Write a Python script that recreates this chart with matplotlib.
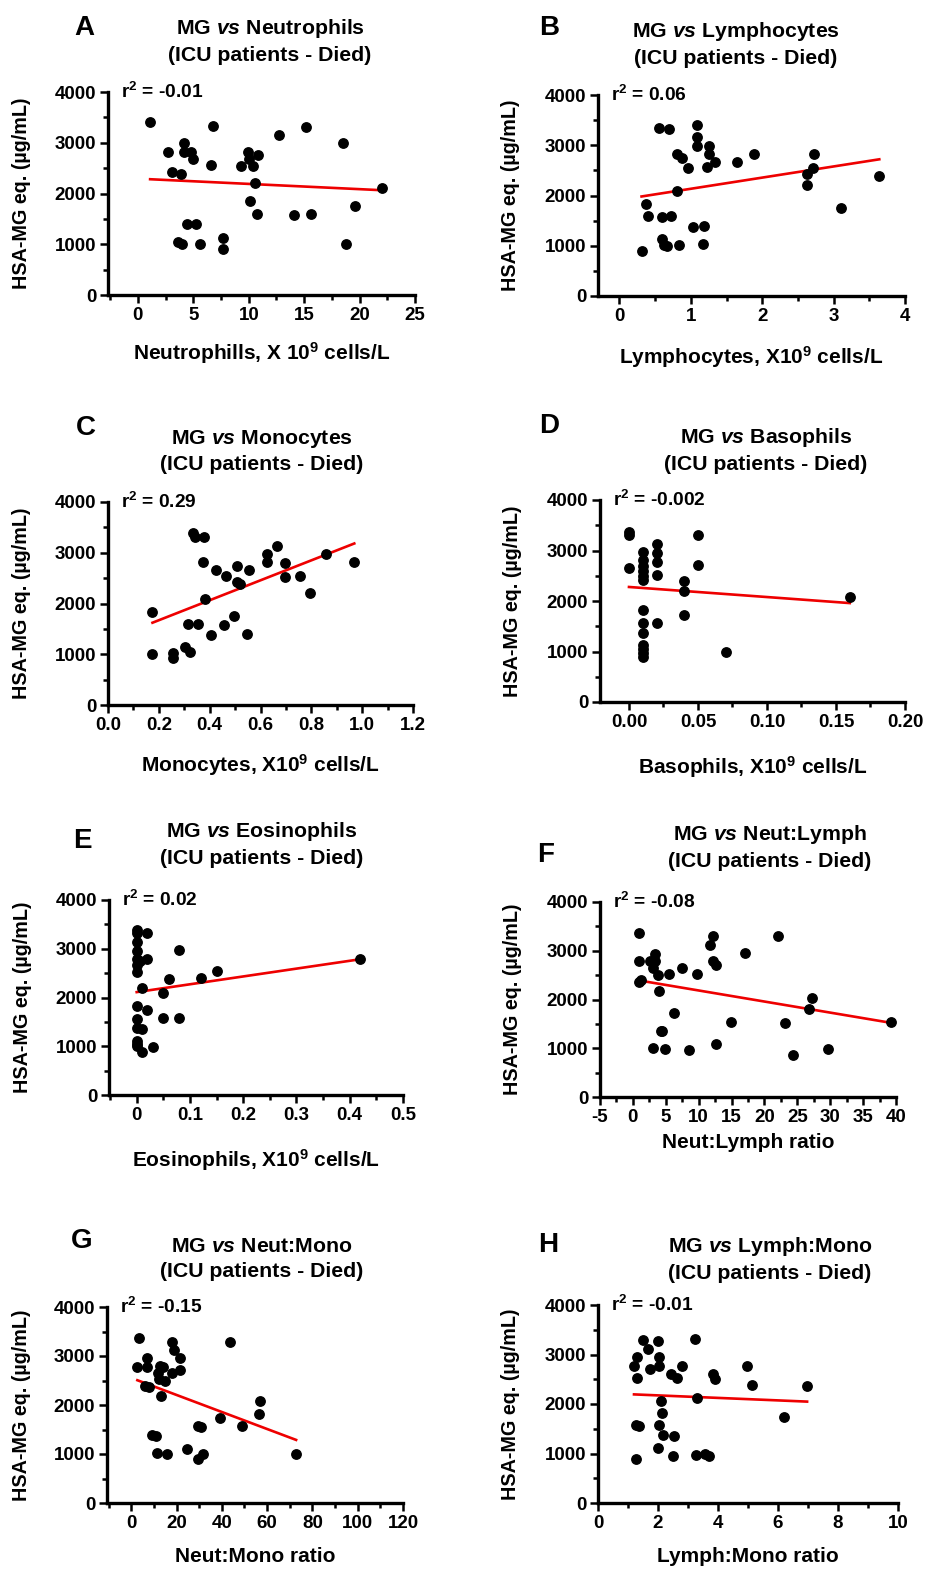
import numpy as np
import matplotlib
matplotlib.use("Agg")
import matplotlib.pyplot as plt
from matplotlib.ticker import MultipleLocator, FixedLocator, FixedFormatter

plt.rcParams["font.family"] = ["Liberation Sans", "DejaVu Sans"]
plt.rcParams["font.weight"] = "bold"
plt.rcParams["mathtext.fontset"] = "custom"
plt.rcParams["mathtext.rm"] = "Liberation Sans:bold"
plt.rcParams["mathtext.it"] = "Liberation Sans:italic:bold"
plt.rcParams["mathtext.bf"] = "Liberation Sans:bold"
plt.rcParams["mathtext.default"] = "rm"

# ---- data ----
a_x = [1.1, 2.7, 3.1, 3.9, 4.2, 4.2, 4.8, 5.0, 3.6, 4.0, 4.4, 5.2, 5.6, 6.6, 6.8, 7.7, 7.7,
       9.3, 9.9, 10.0, 10.4, 10.8, 10.6, 10.1, 10.7, 12.7, 14.1, 15.2, 15.6, 18.5, 18.8, 19.6, 22.0]
a_y = [3400, 2820, 2420, 2390, 2990, 2820, 2820, 2670, 1040, 1010, 1390, 1390, 1010, 2570, 3330, 1130, 900,
       2550, 2820, 2680, 2540, 2750, 2200, 1850, 1590, 3150, 1570, 3320, 1590, 2990, 1010, 1750, 2100]

b_x = [0.31, 0.37, 0.40, 0.56, 0.69, 0.60, 0.72, 0.60, 0.63, 0.67, 0.84, 0.80, 0.87, 0.81, 0.96, 1.03, 1.18,
       1.17, 1.08, 1.08, 1.09, 1.22, 1.26, 1.26, 1.34, 1.65, 1.89, 2.63, 2.63, 2.71, 2.73, 3.10, 3.64]
b_y = [900, 1840, 1590, 3340, 3320, 1580, 1590, 1130, 1010, 990, 1010, 2820, 2750, 2090, 2550, 1380, 1390,
       1040, 3400, 3160, 2980, 2570, 2990, 2820, 2670, 2670, 2820, 2420, 2210, 2540, 2820, 1750, 2390]

c_x = [0.175, 0.175, 0.255, 0.255, 0.304, 0.324, 0.315, 0.354, 0.333, 0.344, 0.377, 0.374, 0.383, 0.406,
       0.423, 0.456, 0.465, 0.496, 0.506, 0.506, 0.518, 0.546, 0.555, 0.625, 0.625, 0.665, 0.698, 0.698,
       0.756, 0.796, 0.859, 0.969]
c_y = [1840, 1010, 1030, 920, 1140, 1050, 1600, 1600, 3380, 3310, 3310, 2810, 2090, 1380,
       2660, 1580, 2550, 1760, 2740, 2420, 2390, 1400, 2660, 2980, 2810, 3140, 2800, 2530,
       2550, 2200, 2970, 2810]

d_x = [0.0, 0.0, 0.0,
       0.01, 0.01, 0.01, 0.01, 0.01, 0.01, 0.01, 0.01, 0.01, 0.01, 0.01, 0.01, 0.01,
       0.02, 0.02, 0.02, 0.02, 0.02, 0.04, 0.04, 0.04, 0.05, 0.05, 0.07, 0.16]
d_y = [3360, 3300, 2650,
       2970, 2820, 2700, 2590, 2500, 2410, 1830, 1560, 1360, 1130, 1050, 970, 890,
       3130, 2950, 2770, 2520, 1560, 2390, 2190, 1730, 3300, 2720, 990, 2080]

e_x = [0.0, 0.0, 0.0, 0.0, 0.0, 0.0, 0.0, 0.0, 0.0, 0.0, 0.0, 0.0, 0.0, 0.006,
       0.01, 0.01, 0.01, 0.02, 0.02, 0.02, 0.03, 0.05, 0.05, 0.06, 0.08, 0.08, 0.12, 0.15, 0.42]
e_y = [3390, 3320, 3130, 2960, 2790, 2670, 2530, 1830, 1550, 1380, 1110, 1040, 1000, 2740,
       2190, 1360, 880, 3320, 2790, 1740, 990, 2090, 1570, 2380, 2970, 1570, 2410, 2540, 2790]

f_x = [1.0, 1.0, 1.2, 1.0, 2.6, 3.0, 3.3, 3.4, 3.8, 4.0, 5.5, 4.2, 4.4, 3.1, 4.9, 6.3, 7.5, 8.5, 9.8,
       11.7, 12.2, 12.2, 12.6, 12.7, 14.9, 17.0, 22.1, 23.2, 24.3, 26.7, 27.3, 29.6, 39.3]
f_y = [3370, 2780, 2390, 2360, 2780, 2650, 2940, 2780, 2500, 2170, 2530, 1350, 1350, 1010, 980, 1720, 2650,
       970, 2520, 3110, 3300, 2780, 2710, 1090, 1540, 2950, 3300, 1520, 860, 1810, 2040, 980, 1540]

g_x = [3.4, 2.7, 6.8, 6.8, 6.1, 7.8, 9.3, 11.1, 11.2, 15.7, 11.8, 12.7, 14.2, 12.3, 14.8, 13.3, 17.9,
       18.9, 17.9, 21.6, 21.4, 24.8, 29.5, 31.0, 29.5, 31.8, 39.3, 43.7, 48.9, 56.6, 56.9, 72.8]
g_y = [3360, 2770, 2960, 2770, 2390, 2370, 1380, 1360, 1020, 990, 2660, 2790, 2770, 2530, 2500, 2180, 3290,
       3120, 2650, 2960, 2720, 1110, 1570, 1550, 890, 990, 1740, 3280, 1570, 1820, 2080, 990]

h_x = [1.20, 1.29, 1.29, 1.26, 1.37, 1.26, 1.51, 1.65, 1.74, 2.00, 2.02, 2.04, 2.11, 2.13, 2.04, 2.16,
       2.00, 2.43, 2.63, 2.49, 2.52, 2.80, 3.22, 3.31, 3.28, 3.57, 3.70, 3.83, 3.89, 4.97, 5.13, 6.20, 6.97]
h_y = [2770, 2940, 2520, 1570, 1550, 880, 3290, 3110, 2710, 3280, 2940, 2770, 2060, 1820, 1570, 1370,
       1110, 2600, 2530, 940, 1360, 2770, 3310, 2130, 960, 990, 940, 2600, 2500, 2770, 2380, 1730, 2360]

letters = ["A", "B", "C", "D", "E", "F", "G", "H"]
titles = ["Neutrophils", "Lymphocytes", "Monocytes", "Basophils",
          "Eosinophils", "Neut:Lymph", "Neut:Mono", "Lymph:Mono"]
xlabels = ["Neutrophills, X 10$^9$ cells/L", "Lymphocytes, X10$^9$ cells/L",
           "Monocytes, X10$^9$ cells/L", "Basophils, X10$^9$ cells/L",
           "Eosinophils, X10$^9$ cells/L", "Neut:Lymph ratio",
           "Neut:Mono ratio", "Lymph:Mono ratio"]
r2_labels = ["-0.01", "0.06", "0.29", "-0.002", "0.02", "-0.08", "-0.15", "-0.01"]
xtick_labels = [
    ["0", "5", "10", "15", "20", "25"],
    ["0", "1", "2", "3", "4"],
    ["0.0", "0.2", "0.4", "0.6", "0.8", "1.0", "1.2"],
    ["0.00", "0.05", "0.10", "0.15", "0.20"],
    ["0", "0.1", "0.2", "0.3", "0.4", "0.5"],
    ["-5", "0", "5", "10", "15", "20", "25", "30", "35", "40"],
    ["0", "20", "40", "60", "80", "100", "120"],
    ["0", "2", "4", "6", "8", "10"],
]
xdata = [a_x, b_x, c_x, d_x, e_x, f_x, g_x, h_x]
ydata = [a_y, b_y, c_y, d_y, e_y, f_y, g_y, h_y]

# ---- layout (pixels on a 926x1570 canvas) ----
W, H = 926, 1570
# left, top, right, bottom of each plot box
boxes = [(108, 92, 415, 295), (598, 95, 905, 296),
         (108, 502, 413, 705), (600, 500, 905, 702),
         (109, 900, 403, 1095), (600, 902, 896, 1097),
         (107, 1307, 403, 1503), (598, 1305, 898, 1503)]
xlims = [(-2.7, 25), (-0.3, 4), (0, 1.2), (-0.021, 0.2),
         (-0.052, 0.5), (-5, 40), (-10.7, 120), (0, 10)]
minor_steps = [2.5, 0.5, 0.1, 0.025, 0.05, 2.5, 10, 1]
title_pos = [(270, 41), (736, 44), (262, 451), (766, 450),
             (262, 844), (770, 847), (262, 1259), (770, 1259)]
letter_pos = [(84, 15), (549, 15), (86, 415), (549, 413),
              (82, 828), (546, 842), (82, 1228), (548, 1232)]
xlabel_y = [353, 357, 765, 767, 1160, 1142, 1557, 1557]
ylabel_x = [22, 510, 22, 512, 22, 513, 22, 510]

fig = plt.figure(figsize=(W / 100, H / 100), dpi=100)

for i in range(8):
    l, t, r, b = boxes[i]
    ax = fig.add_axes([l / W, 1 - b / H, (r - l) / W, (b - t) / H])
    x = np.array(xdata[i])
    y = np.array(ydata[i])

    ax.scatter(x, y, s=46, color="black", zorder=3, clip_on=False)
    k, c0 = np.polyfit(x, y, 1)
    xs = np.array([x.min(), x.max()])
    ax.plot(xs, k * xs + c0, color="#ee0000", lw=1.9, zorder=2)

    ax.set_xlim(*xlims[i])
    ax.set_ylim(0, 4000)
    for s in ["top", "right"]:
        ax.spines[s].set_visible(False)
    for s in ["left", "bottom"]:
        ax.spines[s].set_linewidth(2.4)

    labels = xtick_labels[i]
    ax.xaxis.set_major_locator(FixedLocator([float(v) for v in labels]))
    ax.xaxis.set_major_formatter(FixedFormatter(labels))
    ax.xaxis.set_minor_locator(MultipleLocator(minor_steps[i]))
    ax.yaxis.set_major_locator(MultipleLocator(1000))
    ax.yaxis.set_minor_locator(MultipleLocator(500))
    ax.tick_params(which="major", length=5.5, width=1.8, labelsize=13.5, pad=3)
    ax.tick_params(which="minor", length=3.5, width=1.8)
    for lab in ax.get_xticklabels() + ax.get_yticklabels():
        lab.set_fontweight("bold")

    ax.set_xlabel(xlabels[i], fontsize=15, fontweight="bold")
    ax.xaxis.label.set_va("center")
    ax.xaxis.set_label_coords(0.5, (b - xlabel_y[i]) / (b - t))
    ax.set_ylabel("HSA-MG eq. (µg/mL)", fontsize=14.2, fontweight="bold")
    ax.yaxis.label.set_va("center")
    ax.yaxis.set_label_coords((ylabel_x[i] - l) / (r - l), 0.5)

    ax.text(13 / (r - l), 1.0, "r$^2$ = " + r2_labels[i], transform=ax.transAxes,
            fontsize=13.8, fontweight="bold", ha="left", va="center")

    tx, ty = title_pos[i]
    fig.text(tx / W, 1 - ty / H, "MG $\\mathit{vs}$ " + titles[i] + "\n(ICU patients - Died)",
             ha="center", va="center", fontsize=15.3, fontweight="bold", linespacing=1.35)
    lx, ly = letter_pos[i]
    fig.text(lx / W, 1 - ly / H, letters[i], ha="center", va="top",
             fontsize=20, fontweight="bold")

fig.savefig("out.png", dpi=100)
